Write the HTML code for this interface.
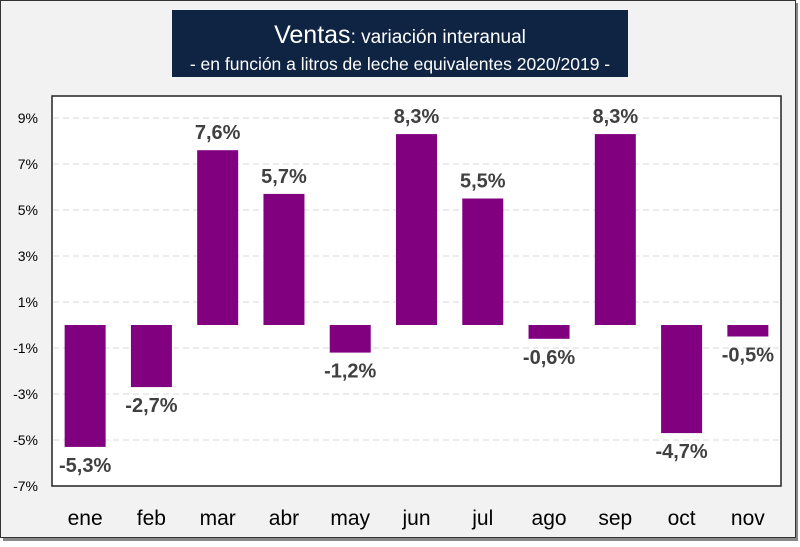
<!DOCTYPE html>
<html><head><meta charset="utf-8"><style>
body{margin:0;width:800px;height:542px;background:#fff;overflow:hidden;font-family:"Liberation Sans",sans-serif}
</style></head><body>
<svg width="800" height="542">
<rect x="3" y="3" width="795" height="538" fill="#888"/>
<rect x="0.5" y="0.5" width="795" height="537" fill="#f2f2f2" stroke="#333"/>
<rect x="172" y="10" width="456" height="67" fill="#0f2443"/>
<text x="400" y="43" text-anchor="middle" fill="#fff" font-size="19"><tspan font-size="25">Ventas</tspan>: variación interanual</text>
<text x="400" y="70" text-anchor="middle" fill="#fff" font-size="17.5">- en función a litros de leche equivalentes 2020/2019 -</text>
<rect x="52" y="96" width="729" height="390" fill="#fff" stroke="#222" stroke-width="1.5"/>
<g id="grid"></g><g id="bars"></g><g id="labels"></g>
</svg>
<script>
const categories=["ene","feb","mar","abr","may","jun","jul","ago","sep","oct","nov"];
const values=[-5.3,-2.7,7.6,5.7,-1.2,8.3,5.5,-0.6,8.3,-4.7,-0.5];
const valueLabels=["-5,3%","-2,7%","7,6%","5,7%","-1,2%","8,3%","5,5%","-0,6%","8,3%","-4,7%","-0,5%"];
const ticks=[9,7,5,3,1,-1,-3,-5,-7];
const tickLabels=["9%","7%","5%","3%","1%","-1%","-3%","-5%","-7%"];
const NS="http://www.w3.org/2000/svg";
const L=52,W=729,y0=325,k=23;
const y=v=>y0-v*k;
const x=i=>L+(i+0.5)*W/categories.length;
function mk(t,a,p){const e=document.createElementNS(NS,t);for(const n in a)e.setAttribute(n,a[n]);p.appendChild(e);return e;}
const g=document.getElementById('grid'),b=document.getElementById('bars'),lb=document.getElementById('labels');
ticks.forEach((t,i)=>{
 if(t<9.9&&t>-6.9){const l=mk('line',{x1:L+1,x2:L+W-1,y1:y(t),y2:y(t),stroke:'#d9d9d9','stroke-dasharray':'6,4'},g);
 
 }
 const tx=mk('text',{x:38,y:y(t)+5,'text-anchor':'end','font-size':14,fill:'#000'},g);
 tx.textContent=tickLabels[i];
 
 
});
values.forEach((v,i)=>{
 const r=mk('rect',{x:x(i)-20.5,y:Math.min(y(v),y0),width:41,height:Math.abs(y(v)-y0),fill:'#800080'},b);
 
 
 const t=mk('text',{x:x(i),y:v>=0?y(v)-11:y(v)+25,'text-anchor':'middle','font-size':20,'font-weight':'bold',fill:'#404040'},lb);
 t.textContent=valueLabels[i];
 
 
 const c=mk('text',{x:x(i),y:525,'text-anchor':'middle','font-size':21,fill:'#000'},lb);
 c.textContent=categories[i];
 
 
});
</script>
</body></html>
